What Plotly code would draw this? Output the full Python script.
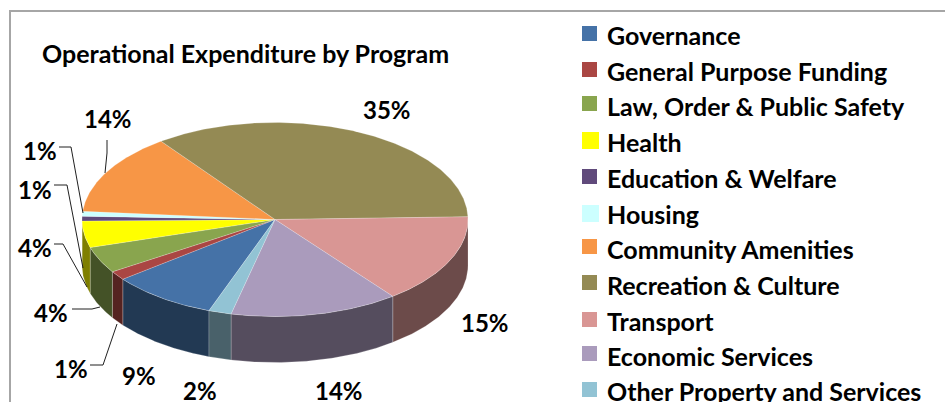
import math
import plotly.graph_objects as go

categories = ["Governance", "General Purpose Funding", "Law, Order & Public Safety", "Health",
              "Education & Welfare", "Housing", "Community Amenities", "Recreation & Culture",
              "Transport", "Economic Services", "Other Property and Services"]
values = [8.9, 1.49, 4.4, 4.4, 0.8, 0.8, 13.6, 34.6, 15.0, 14.1, 1.9]
colors = ["#4572A7", "#AA4643", "#89A54E", "#FFFF00", "#604A7B", "#CCFFFF",
          "#F79646", "#948A54", "#D99694", "#AA9BBC", "#92C3D4"]

# pie geometry in page pixels
CX, CY, RX, RY, DEPTH = 275, 219.5, 193, 97, 46
START = 200.0
label_pos = [(139, 375), (71, 368), (51, 312), (35, 247), (35, 189), (40, 150),
             (108, 118), (387, 109), (485, 322), (339, 390), (200, 390)]
leader_paths = ["M59,147 L71,147 L83,213", "M54,185 L67,185 L83,268", "M54,244 L63,244 L87,287",
                "M72,309 L92,309 L100,307", "M90,365 L103,365 L117,324", "M107,140 L107,153 L105,173"]
swatch_y = [33.5, 69.5, 103.5, 140.5, 176.5, 213.5, 246.5, 282.5, 319.5, 353.5, 389.5]
swatch_size = [15, 15, 15, 17, 15, 17, 15, 15, 15, 15, 15]
legend_text_y = [35, 71, 106, 142, 178, 214, 249, 285, 321, 356, 391]
FONT = "Lato"
LABEL_SIZE = 24
LEGEND_SIZE = 25


def pt(t, dy=0.0):
    r = math.radians(t)
    return CX + RX * math.sin(r), CY - RY * math.cos(r) + dy


def darker(c):
    return "rgb(%d,%d,%d)" % tuple(int(c[i:i + 2], 16) // 2 for i in (1, 3, 5))


def arc(a, b):
    n = max(2, int(abs(b - a) * 2))
    return [a + (b - a) * i / n for i in range(n + 1)]


fig = go.Figure()
total = sum(values)
t = START
spans = []
for v in values:
    spans.append((t, t + 360 * v / total))
    t += 360 * v / total

# side wall
for cat, col, (a, b) in zip(categories, colors, spans):
    for k in (0, 360):
        lo, hi = max(a, 90 + k), min(b, 270 + k)
        if hi <= lo:
            continue
        ts = arc(lo, hi)
        top = [pt(x) for x in ts]
        bot = [pt(x, DEPTH) for x in reversed(ts)]
        poly = top + bot + [top[0]]
        fig.add_trace(go.Scatter(x=[p[0] for p in poly], y=[p[1] for p in poly], mode="lines",
                                 fill="toself", fillcolor=darker(col),
                                 line=dict(color="rgba(255,255,255,0.35)", width=0.6),
                                 showlegend=False, hoverinfo="skip"))
# top face
for cat, col, v, (a, b) in zip(categories, colors, values, spans):
    poly = [(CX, CY)] + [pt(x) for x in arc(a, b)] + [(CX, CY)]
    fig.add_trace(go.Scatter(x=[p[0] for p in poly], y=[p[1] for p in poly], mode="lines",
                             fill="toself", fillcolor=col,
                             line=dict(color="rgba(255,255,255,0.35)", width=0.6),
                             name=cat, showlegend=False, hoveron="fills", text=f"{cat}: {v}%",
                             hoverinfo="text"))
# legend swatches
fig.add_trace(go.Scatter(x=[582 + s / 2 for s in swatch_size], y=swatch_y, mode="markers",
                         marker=dict(symbol="square", size=swatch_size, color=colors, opacity=1,
                                     line=dict(width=0)),
                         text=categories, hoverinfo="text", showlegend=False))

anns = [dict(x=x, y=y, xref="x", yref="y", text=f"<b>{round(v)}%</b>", showarrow=False,
             font=dict(family=FONT, size=LABEL_SIZE, color="#000000"), xanchor="center", yanchor="middle")
        for v, (x, y) in zip(values, label_pos)]
anns.append(dict(x=42, y=53, xref="x", yref="y", text="<b>Operational Expenditure by Program</b>",
                 showarrow=False, xanchor="left", yanchor="middle", xshift=-2,
                 font=dict(family=FONT, size=LEGEND_SIZE, color="#000000")))
for cat, y in zip(categories, legend_text_y):
    anns.append(dict(x=607, y=y, xref="x", yref="y", text=f"<b>{cat}</b>", showarrow=False,
                     xanchor="left", yanchor="middle", xshift=-2,
                     font=dict(family=FONT, size=LEGEND_SIZE, color="#000000")))

shapes = [dict(type="path", path=p, line=dict(color="#202020", width=1), xref="x", yref="y")
          for p in leader_paths]
shapes.append(dict(type="rect", x0=10, y0=11, x1=980, y1=440, xref="x", yref="y",
                   line=dict(color="#A6A6A6", width=2), layer="below"))

fig.update_layout(
    width=945, height=402, margin=dict(l=0, r=0, t=0, b=0, autoexpand=False),
    paper_bgcolor="white", plot_bgcolor="white",
    xaxis=dict(range=[0, 945], visible=False, fixedrange=True),
    yaxis=dict(range=[402, 0], visible=False, fixedrange=True),
    annotations=anns, shapes=shapes, hovermode="closest", showlegend=False,
)
fig.write_html("out.html", config=dict(displayModeBar=False),
               post_script="document.body.style.margin='0';")
